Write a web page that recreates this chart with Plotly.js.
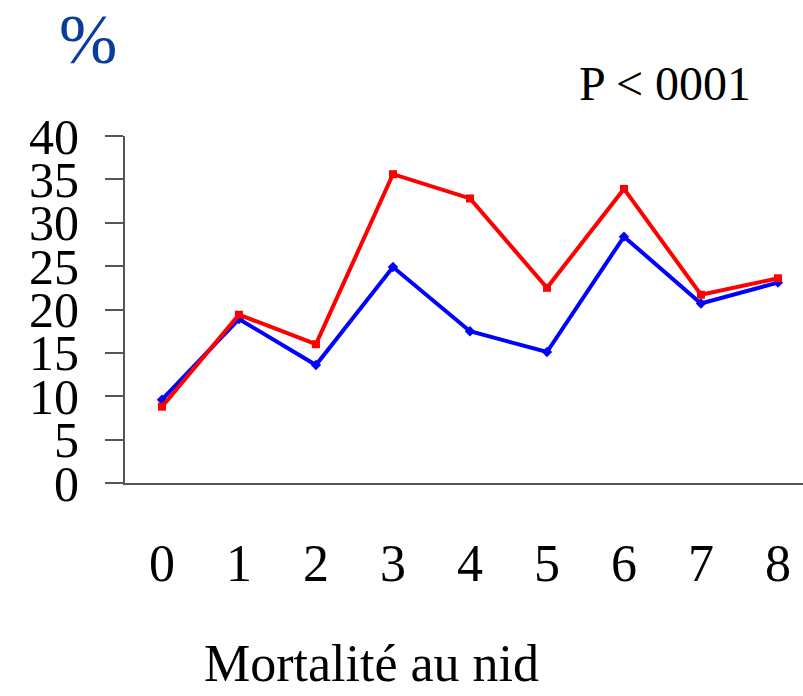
<!DOCTYPE html>
<html>
<head>
<meta charset="utf-8">
<script src="https://cdn.plot.ly/plotly-3.0.1.min.js"></script>
<style>html,body{margin:0;padding:0;background:#fff;}#chart{width:803px;height:696px;}</style>
</head>
<body>
<div id="chart"></div>
<script>
var categories = [0, 1, 2, 3, 4, 5, 6, 7, 8];
var tickLabels = ["0", "1", "2", "3", "4", "5", "6", "7", "8"];
var redValues = [8.8, 19.4, 16.0, 35.6, 32.8, 22.5, 33.9, 21.7, 23.6];
var blueValues = [9.6, 18.9, 13.6, 24.9, 17.5, 15.1, 28.4, 20.7, 23.1];
var yTicks = [0, 5, 10, 15, 20, 25, 30, 35, 40];

var serif = '"Liberation Serif", "Times New Roman", Times, serif';

var traces = [
  {
    x: categories, y: blueValues, type: 'scatter', mode: 'lines+markers',
    line: {color: '#0000FF', width: 4},
    marker: {symbol: 'diamond', size: 8, color: '#0000FF'},
    showlegend: false, hoverinfo: 'skip'
  },
  {
    x: categories, y: redValues, type: 'scatter', mode: 'lines+markers',
    line: {color: '#FF0000', width: 4},
    marker: {symbol: 'square', size: 8, color: '#FF0000'},
    showlegend: false, hoverinfo: 'skip'
  }
];

var layout = {
  width: 803, height: 696,
  margin: {l: 125, r: 0, t: 136, b: 213},
  paper_bgcolor: '#ffffff', plot_bgcolor: '#ffffff',
  font: {family: serif, color: '#000000'},
  xaxis: {
    range: [-0.48, 8.325],
    tickvals: categories, ticktext: tickLabels,
    showgrid: false, zeroline: false,
    showline: true, linecolor: '#555555', linewidth: 2,
    ticks: '', ticklabelstandoff: 34,
    tickfont: {family: serif, size: 52, color: '#000000'},
    fixedrange: true
  },
  yaxis: {
    range: [0, 40],
    tickvals: yTicks, ticktext: yTicks.map(String),
    showgrid: false, zeroline: false,
    showline: true, linecolor: '#555555', linewidth: 2,
    ticks: 'outside', ticklen: 18, tickwidth: 2, tickcolor: '#555555',
    ticklabelstandoff: 16,
    tickfont: {family: serif, size: 50, color: '#000000'},
    fixedrange: true
  },
  annotations: [
    {text: 'Mortalité au nid', xref: 'paper', yref: 'paper', x: 0.364, y: -0.52,
     xanchor: 'center', yanchor: 'middle', showarrow: false,
     font: {family: serif, size: 52, color: '#000000'}},
    {text: 'P &lt; 0001', xref: 'paper', yref: 'paper', x: 0.796, y: 1.15,
     xanchor: 'center', yanchor: 'middle', showarrow: false,
     font: {family: serif, size: 48, color: '#000000'}},
    {text: '%', xref: 'paper', yref: 'paper', x: -0.0546, y: 1.277,
     xanchor: 'center', yanchor: 'middle', showarrow: false,
     font: {family: serif, size: 70, color: '#0A3C9C'}}
  ]
};

Plotly.newPlot('chart', traces, layout, {displayModeBar: false, staticPlot: true});
</script>
</body>
</html>
